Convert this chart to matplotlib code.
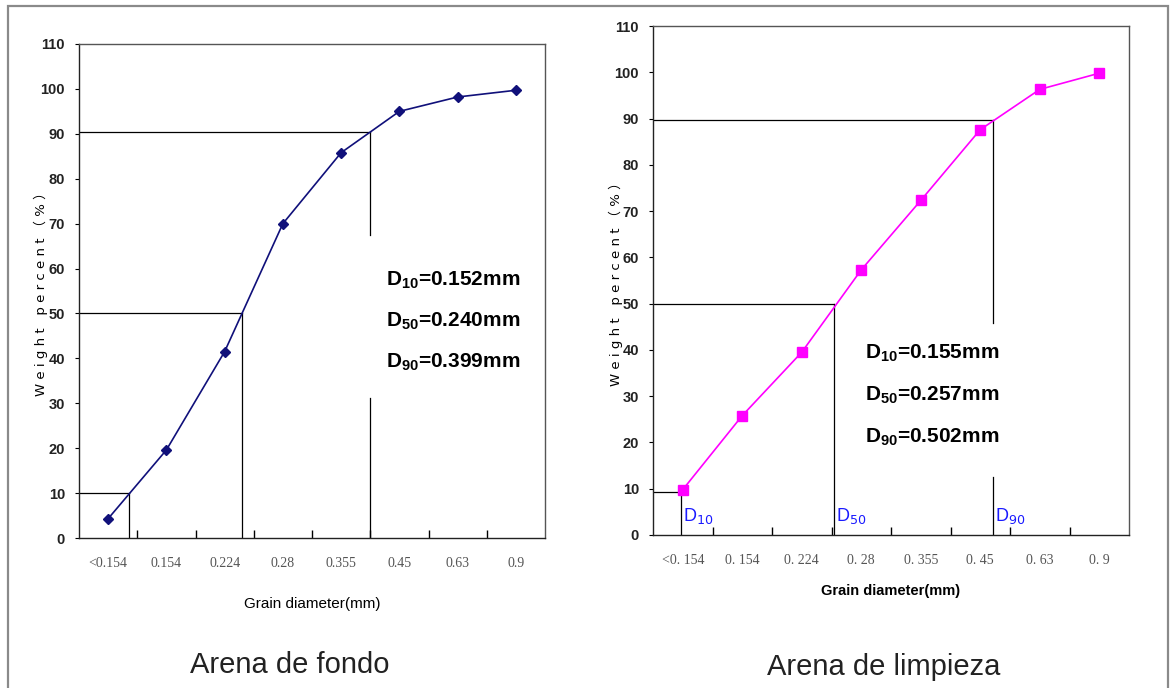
import matplotlib
matplotlib.use("Agg")
import matplotlib.pyplot as plt
from matplotlib import font_manager
from matplotlib.patches import Rectangle

# ---------------- data ----------------
categories = ["<0.154", "0.154", "0.224", "0.28", "0.355", "0.45", "0.63", "0.9"]
categories_r = ["<0. 154", "0. 154", "0. 224", "0. 28", "0. 355", "0. 45", "0. 63", "0. 9"]
fondo = [4.3, 19.6, 41.5, 70.0, 85.8, 95.0, 98.2, 99.7]
limpieza = [9.8, 25.8, 39.5, 57.3, 72.3, 87.6, 96.3, 99.8]

# D-reference levels (percent) and their positions on the category axis
d_levels_fondo = [10, 50, 90.5]
d_pos_fondo = [0.86, 2.80, 4.99]
d_levels_limp = [9.3, 50, 89.7]
d_pos_limp = [0.47, 3.04, 5.71]

texts_fondo = ["0.152mm", "0.240mm", "0.399mm"]
texts_limp = ["0.155mm", "0.257mm", "0.502mm"]
d_names = ["10", "50", "90"]

y_ticks = list(range(0, 111, 10))


def has_font(name):
    try:
        font_manager.findfont(font_manager.FontProperties(family=name),
                              fallback_to_default=False)
        return True
    except Exception:
        return False


NARROW = "Liberation Sans Narrow" if has_font("Liberation Sans Narrow") else "Liberation Sans"
plt.rcParams["mathtext.fontset"] = "custom"
plt.rcParams["mathtext.rm"] = NARROW + ":bold"
plt.rcParams["mathtext.bf"] = NARROW + ":bold"

W, H = 1171, 688
fig = plt.figure(figsize=(W / 100, H / 100), dpi=100)
fig.patch.set_facecolor("white")

# outer gray frame
fig.add_artist(Rectangle((8 / W, -0.01), (1168 - 8) / W, (H - 6) / H + 0.01,
                         transform=fig.transFigure, fill=False,
                         edgecolor="#8a8a8a", lw=1.6))


def px_axes(x0, y0, x1, y1):
    return fig.add_axes([x0 / W, 1 - y1 / H, (x1 - x0) / W, (y1 - y0) / H])


def style_axes(ax, labels):
    n = len(labels)
    ax.set_xlim(0, n)
    ax.set_ylim(0, 110)
    ax.set_xticks([i + 0.5 for i in range(n)])
    ax.set_xticklabels(labels, family="Liberation Serif", fontsize=10, color="#555555")
    ax.set_xticks(list(range(1, n)), minor=True)
    ax.tick_params(axis="x", which="major", length=0, pad=14)
    ax.tick_params(axis="x", which="minor", direction="in", length=6, width=1)
    ax.set_yticks(y_ticks)
    ax.set_yticklabels([str(v) for v in y_ticks], family=NARROW, fontsize=10.5,
                       fontweight="bold", color="#222222")
    ax.tick_params(axis="y", direction="out", length=3, width=0.8, pad=7)
    for s in ax.spines.values():
        s.set_linewidth(1.0)
        s.set_color("#222222")
    ax.spines["top"].set_color("#555555")
    ax.spines["right"].set_color("#555555")


def ylab(ax, x):
    ax.set_ylabel("W e i g h t   p e r c e n t （ % ）",
                  family=["DejaVu Sans", "Noto Sans CJK SC"], fontsize=9.5)
    ax.yaxis.set_label_coords(x, 0.5)


# ---------------- left chart ----------------
ax1 = px_axes(79, 44, 545, 538)
style_axes(ax1, categories)
xs = [i + 0.5 for i in range(len(categories))]
ax1.plot(xs, fondo, color="#10107a", lw=1.2, marker="D", ms=5.5, zorder=3)
lw_ref = 0.9
for lev, pos in zip(d_levels_fondo[:2], d_pos_fondo[:2]):
    ax1.plot([0, pos], [lev, lev], color="black", lw=lw_ref)
    ax1.plot([pos, pos], [0, lev], color="black", lw=lw_ref)
lev, pos = d_levels_fondo[2], d_pos_fondo[2]
ax1.plot([0, pos], [lev, lev], color="black", lw=lw_ref)
ax1.plot([pos, pos], [67.5, lev], color="black", lw=lw_ref)
ax1.plot([pos, pos], [0, 31.2], color="black", lw=lw_ref)
for k, (nm, t) in enumerate(zip(d_names, texts_fondo)):
    ax1.text(5.27, 57.5 - k * 9.2, r"$\mathrm{D}_{%s}$=%s" % (nm, t),
             family=NARROW, fontweight="bold", fontsize=15, va="center", ha="left")
ax1.set_xlabel("Grain diameter(mm)", family=NARROW, fontsize=11, labelpad=19)
ylab(ax1, -0.066)
fig.text(290 / W, 1 - 665 / H, "Arena de fondo", family="Liberation Sans",
         fontsize=21, ha="center", va="center", color="#222222")

# ---------------- right chart ----------------
ax2 = px_axes(653, 26, 1129, 535)
style_axes(ax2, categories_r)
ax2.plot(xs, limpieza, color="#ff00ff", lw=1.2, marker="s", ms=6.5, zorder=3)
for lev, pos in zip(d_levels_limp[:2], d_pos_limp[:2]):
    ax2.plot([0, pos], [lev, lev], color="black", lw=lw_ref)
    ax2.plot([pos, pos], [0, lev], color="black", lw=lw_ref)
lev, pos = d_levels_limp[2], d_pos_limp[2]
ax2.plot([0, pos], [lev, lev], color="black", lw=lw_ref)
ax2.plot([pos, pos], [45.8, lev], color="black", lw=lw_ref)
ax2.plot([pos, pos], [0, 12.5], color="black", lw=lw_ref)
for k, (nm, t) in enumerate(zip(d_names, texts_limp)):
    ax2.text(3.57, 39.2 - k * 9.0, r"$\mathrm{D}_{%s}$=%s" % (nm, t),
             family=NARROW, fontweight="bold", fontsize=15, va="center", ha="left")
for nm, pos in zip(d_names, d_pos_limp):
    ax2.text(pos + 0.04, 4.0, r"D$_{%s}$" % nm, family=NARROW, fontsize=13,
             color="#1a1aff", ha="left", va="center", math_fontfamily="dejavusans")
ax2.set_xlabel("Grain diameter(mm)", family=NARROW, fontsize=10.5,
               fontweight="bold", labelpad=12)
ylab(ax2, -0.062)
fig.text(884 / W, 1 - 667 / H, "Arena de limpieza", family="Liberation Sans",
         fontsize=21, ha="center", va="center", color="#222222")

fig.savefig("out.png", dpi=100, facecolor="white")
